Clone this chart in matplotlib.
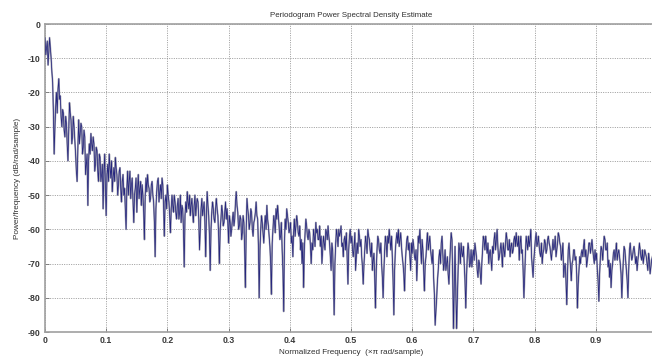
import numpy as np
import matplotlib
matplotlib.use("Agg")
import matplotlib.pyplot as plt

plt.rcParams["font.family"] = ["Liberation Sans", "DejaVu Sans"]

# Power spectral density (dB/rad/sample).
# psd_db: samples at frequency step 0.0025 (x pi rad/sample), starting at 0
psd_db = [
    -4, -7, -12, -4, -10, -17, -38, -24, -26, -16, -21, -30, -26, -33, -29, -40, -23, -28, -33, -30,
    -38, -46, -28, -32, -30, -36, -33, -41, -53, -35, -32, -37, -35, -41, -37, -46, -39, -44, -54, -38,
    -56, -41, -38, -45, -49, -42, -39, -44, -47, -42, -52, -44, -48, -60, -43, -46, -51, -45, -58, -48,
    -55, -44, -48, -53, -50, -63, -45, -44, -48, -51, -46, -52, -68, -49, -45, -49, -51, -47, -62, -50,
    -47, -52, -61, -50, -55, -52, -57, -51, -55, -58, -54, -71, -52, -49, -54, -56, -51, -58, -50, -53,
    -52, -66, -54, -56, -52, -68, -49, -56, -72, -55, -54, -58, -51, -56, -70, -57, -55, -58, -52, -54,
    -64, -58, -60, -55, -57, -49, -55, -59, -57, -61, -58, -77, -51, -56, -58, -55, -62, -57, -52, -57,
    -80, -60, -58, -64, -56, -53, -59, -65, -79, -60, -58, -54, -53, -59, -62, -66, -84, -57, -54, -58,
    -60, -64, -68, -57, -59, -58, -62, -66, -70, -77, -61, -59, -63, -61, -70, -66, -62, -58, -60, -63,
    -65, -70, -62, -66, -61, -59, -64, -72, -66, -85, -64, -62, -60, -61, -65, -68, -62, -61, -76, -62,
    -64, -66, -65, -72, -64, -60, -65, -68, -76, -66, -64, -60, -63, -68, -72, -67, -83, -66, -63, -67,
    -70, -80, -66, -64, -62, -60, -66, -68, -85, -66, -61, -60, -63, -65, -70, -78, -66, -62, -64, -72,
    -67, -65, -69, -75, -62, -60, -70, -66, -78, -68, -61, -64, -66, -70, -74, -88, -80, -72, -66, -64,
    -67, -70, -72, -68, -76, -65, -63, -89, -65, -89, -72, -66, -64, -68, -70, -83, -68, -66, -70, -71,
    -66, -64, -68, -74, -70, -76, -66, -63, -62, -67, -70, -66, -72, -67, -61, -63, -65, -68, -64, -71,
    -66, -64, -63, -66, -68, -64, -66, -62, -61, -65, -69, -62, -66, -80, -67, -64, -62, -63, -68, -74,
    -66, -61, -64, -65, -68, -70, -66, -64, -66, -62, -65, -69, -63, -65, -68, -64, -62, -65, -67, -74,
    -70, -82, -66, -68, -75, -69, -66, -68, -83, -72, -70, -66, -65, -68, -71, -67, -64, -65, -66, -70,
    -69, -72, -81, -68, -66, -65, -63, -66, -71, -74, -77, -70, -66, -67, -69, -66, -70, -80, -69, -66,
    -72, -80, -66, -67, -68, -65, -70, -72, -67, -66, -69, -70, -66, -68, -72, -69, -71, -68,
]
# psd_db_mid: samples half-way between the samples above
psd_db_mid = [
    -9, -5, -8, -7, -14, -26, -30, -20, -19, -22, -27, -25, -31, -27, -35, -31, -26, -35, -27, -34,
    -43, -36, -35, -29, -38, -31, -44, -38, -40, -38, -35, -33, -43, -36, -43, -38, -46, -41, -43, -48,
    -44, -46, -42, -40, -45, -46, -42, -50, -43, -48, -46, -50, -54, -48, -50, -43, -47, -52, -50, -45,
    -48, -51, -46, -47, -55, -50, -49, -47, -52, -47, -50, -58, -54, -46, -52, -47, -45, -53, -52, -54,
    -50, -56, -54, -53, -50, -55, -53, -57, -50, -53, -60, -56, -55, -52, -50, -53, -55, -53, -56, -51,
    -57, -60, -51, -54, -58, -56, -53, -62, -60, -52, -57, -54, -54, -62, -60, -53, -59, -55, -57, -58,
    -56, -62, -57, -59, -52, -53, -60, -56, -63, -56, -66, -60, -54, -60, -54, -60, -58, -55, -56, -65,
    -66, -56, -61, -59, -60, -57, -62, -70, -64, -56, -61, -57, -56, -63, -58, -72, -64, -60, -56, -61,
    -58, -62, -61, -62, -56, -61, -59, -63, -64, -66, -57, -62, -60, -65, -64, -60, -65, -61, -63, -59,
    -62, -66, -64, -60, -63, -62, -68, -64, -74, -70, -60, -65, -62, -59, -64, -63, -66, -68, -66, -60,
    -62, -68, -61, -68, -67, -62, -63, -71, -70, -62, -67, -62, -66, -64, -69, -74, -72, -62, -66, -64,
    -74, -72, -62, -68, -64, -63, -62, -75, -72, -63, -64, -65, -61, -68, -73, -70, -63, -66, -68, -64,
    -63, -68, -66, -68, -64, -65, -63, -72, -70, -64, -66, -62, -68, -66, -79, -84, -75, -68, -70, -62,
    -72, -66, -70, -73, -70, -61, -75, -76, -78, -80, -64, -70, -67, -65, -75, -74, -64, -71, -66, -68,
    -69, -66, -72, -69, -73, -70, -62, -66, -65, -64, -67, -69, -65, -63, -66, -60, -69, -66, -67, -64,
    -68, -61, -66, -63, -65, -67, -63, -65, -64, -62, -64, -67, -72, -74, -62, -66, -65, -60, -71, -69,
    -63, -65, -62, -67, -64, -67, -63, -67, -63, -64, -67, -66, -66, -62, -66, -61, -64, -69, -64, -71,
    -75, -73, -64, -71, -70, -66, -69, -73, -76, -68, -67, -68, -63, -66, -69, -64, -67, -63, -68, -66,
    -67, -75, -73, -65, -69, -62, -66, -64, -69, -70, -72, -67, -69, -64, -67, -68, -73, -74, -65, -69,
    -75, -72, -64, -69, -66, -67, -68, -69, -64, -68, -66, -68, -67, -70, -67, -73, -69,
]
freq_step = 0.0025

psd_all = np.empty(len(psd_db) + len(psd_db_mid))
psd_all[0::2] = psd_db
psd_all[1::2] = psd_db_mid
freq = np.arange(len(psd_all)) * (freq_step / 2)

x_ticks = [0, 0.1, 0.2, 0.3, 0.4, 0.5, 0.6, 0.7, 0.8, 0.9]
x_tick_labels = ["0", "0.1", "0.2", "0.3", "0.4", "0.5", "0.6", "0.7", "0.8", "0.9"]
y_ticks = [0, -10, -20, -30, -40, -50, -60, -70, -80, -90]
y_tick_labels = ["0", "-10", "-20", "-30", "-40", "-50", "-60", "-70", "-80", "-90"]

W, H = 652, 358
fig = plt.figure(figsize=(W / 100, H / 100), dpi=100)
ax = fig.add_axes([45 / W, (H - 332) / H, 612 / W, 308 / H])

ax.plot(freq, psd_all, color="#a4a4b2", lw=1.3, zorder=2)
ax.plot(freq, psd_all, color="#26267e", lw=0.55, zorder=3)

ax.set_xlim(0, 1)
ax.set_ylim(-90, 0)
ax.set_xticks(x_ticks)
ax.set_xticklabels(x_tick_labels)
ax.set_yticks(y_ticks)
ax.set_yticklabels(y_tick_labels)
ax.tick_params(direction="in", length=3, width=0.6, colors="#707070",
               labelcolor="#3a3a3a", labelsize=6.3, pad=3)
for lab in ax.get_xticklabels() + ax.get_yticklabels():
    lab.set_fontweight("bold")
ax.grid(True, linestyle=(0, (1.2, 1.6)), color="#8c8c8c", lw=0.6)
for s in ax.spines.values():
    s.set_color("#a0a0a0")
    s.set_linewidth(1.2)

ax.set_title("Periodogram Power Spectral Density Estimate", fontsize=5.7,
             color="#303030", pad=5)
ax.set_xlabel("Normalized Frequency  (\u00d7\u03c0 rad/sample)", fontsize=5.9,
              color="#303030", labelpad=3)
ax.set_ylabel("Power/frequency (dB/rad/sample)", fontsize=5.9, color="#303030",
              labelpad=5)

fig.savefig("out.png", dpi=100)
